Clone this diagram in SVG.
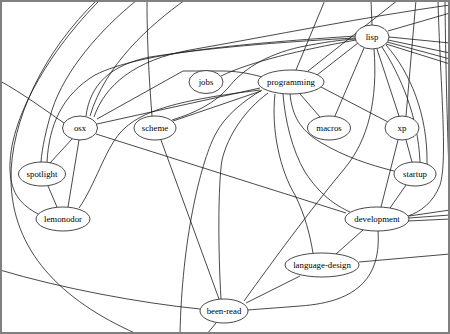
<svg xmlns="http://www.w3.org/2000/svg" width="450" height="334" viewBox="0 0 450 334">
<style>
.edges path{fill:none;stroke:#1a1a1a;stroke-width:0.8}
.node ellipse{fill:#fff;stroke:#1a1a1a;stroke-width:0.8}
.node text{font-family:"Liberation Serif","Times New Roman",serif;font-size:8.8px;fill:#000;text-anchor:middle}
</style>
<rect x="0" y="0" width="450" height="334" fill="#fff"/>
<g id="edges" class="edges">
<path d="M97,0 C45,50 10,120 11,180 C12,250 60,300 137,334"/>
<path d="M100,0 C50,50 8,120 10,170 C11,195 22,205 38,214"/>
<path d="M137,0 C100,30 65,70 52,110 C46,130 42,148 41,162"/>
<path d="M47,162 C49,125 62,95 95,75 C140,52 250,43 356,36"/>
<path d="M64,123 C45,110 22,93 0,81"/>
<path d="M97,124 L260,88"/>
<path d="M96,134 L346,213"/>
<path d="M72,139 L50,163"/>
<path d="M79,140 L68,207"/>
<path d="M185,0 C150,25 105,65 90,116"/>
<path d="M86,116 C90,85 110,65 150,57 C220,46 300,41 355,38"/>
<path d="M94,117 C105,85 135,60 190,50 C270,36 370,16 450,5"/>
<path d="M97,119 L183,71 L222,71 C235,71 248,73 262,77"/>
<path d="M221,76 C250,62 300,50 356,40"/>
<path d="M172,120 C195,113 215,103 228,88 C242,70 265,55 300,47 C325,42 340,40 356,39"/>
<path d="M79,208 C95,185 105,150 120,133 C140,110 180,100 260,90"/>
<path d="M173,121 L261,91"/>
<path d="M147,0 C147,50 150,90 152,116"/>
<path d="M161,140 L219,299"/>
<path d="M268,93 C245,110 228,135 222,160 C218,185 218,250 221,299"/>
<path d="M262,90 C245,100 225,115 215,135 C200,165 182,240 180,334"/>
<path d="M275,94 C271,130 280,170 295,195 C305,215 310,235 313,253"/>
<path d="M283,94 C285,120 292,150 305,172 C320,195 335,205 350,212"/>
<path d="M290,94 C292,115 300,130 320,142 C345,157 370,165 394,171"/>
<path d="M300,94 L320,117"/>
<path d="M321,87 L388,122"/>
<path d="M317,75 L358,43"/>
<path d="M325,0 L296,70"/>
<path d="M398,0 L308,71"/>
<path d="M371,0 L372,25"/>
<path d="M389,37 L450,43"/>
<path d="M388,40 L450,53"/>
<path d="M387,42 L450,59"/>
<path d="M386,44 L450,64"/>
<path d="M450,13 L388,31"/>
<path d="M364,48 L335,116"/>
<path d="M377,49 L399,116"/>
<path d="M374,49 C378,100 368,140 345,168 C310,210 270,265 244,301"/>
<path d="M382,47 C400,75 418,115 420,162"/>
<path d="M386,45 C410,72 428,115 427,164"/>
<path d="M438,0 C440,80 448,160 440,185 C433,203 420,212 408,216"/>
<path d="M445,0 C446,100 449,170 450,200"/>
<path d="M416,0 L406,116"/>
<path d="M398,140 L381,207"/>
<path d="M406,140 L412,162"/>
<path d="M406,185 L390,208"/>
<path d="M409,216 L450,210"/>
<path d="M409,218 L450,215"/>
<path d="M408,221 L450,219"/>
<path d="M363,230 L336,254"/>
<path d="M378,231 C381,275 360,302 300,306 C275,308 260,309 248,310"/>
<path d="M359,262 L450,254"/>
<path d="M300,276 L246,303"/>
<path d="M216,323 L207,334"/>
<path d="M0,270 C60,288 140,303 200,309"/>
<path d="M48,186 L57,207"/>
</g>
<g id="node-lisp" class="node"><ellipse cx="372" cy="37" rx="17" ry="12"/><text x="372" y="40">lisp</text></g>
<g id="node-jobs" class="node"><ellipse cx="206" cy="82" rx="17" ry="11.5"/><text x="206" y="85">jobs</text></g>
<g id="node-programming" class="node"><ellipse cx="291" cy="82" rx="33" ry="12"/><text x="291" y="85">programming</text></g>
<g id="node-osx" class="node"><ellipse cx="80" cy="128" rx="17.5" ry="12"/><text x="80" y="131">osx</text></g>
<g id="node-scheme" class="node"><ellipse cx="155" cy="128" rx="21" ry="12"/><text x="155" y="131">scheme</text></g>
<g id="node-macros" class="node"><ellipse cx="329" cy="128" rx="21.5" ry="12"/><text x="329" y="131">macros</text></g>
<g id="node-xp" class="node"><ellipse cx="402" cy="128" rx="17" ry="12"/><text x="402" y="131">xp</text></g>
<g id="node-spotlight" class="node"><ellipse cx="42" cy="174" rx="23.5" ry="12"/><text x="42" y="177">spotlight</text></g>
<g id="node-startup" class="node"><ellipse cx="415" cy="174" rx="21" ry="12"/><text x="415" y="177">startup</text></g>
<g id="node-lemonodor" class="node"><ellipse cx="63" cy="219" rx="27" ry="12"/><text x="63" y="222">lemonodor</text></g>
<g id="node-development" class="node"><ellipse cx="377" cy="219" rx="32" ry="12"/><text x="377" y="222">development</text></g>
<g id="node-language-design" class="node"><ellipse cx="322" cy="265" rx="37" ry="12"/><text x="322" y="268">language-design</text></g>
<g id="node-been-read" class="node"><ellipse cx="224" cy="311" rx="24" ry="12"/><text x="224" y="314">been-read</text></g>
<rect x="1" y="1" width="448" height="332" fill="none" stroke="#808080" stroke-width="2"/>
</svg>
